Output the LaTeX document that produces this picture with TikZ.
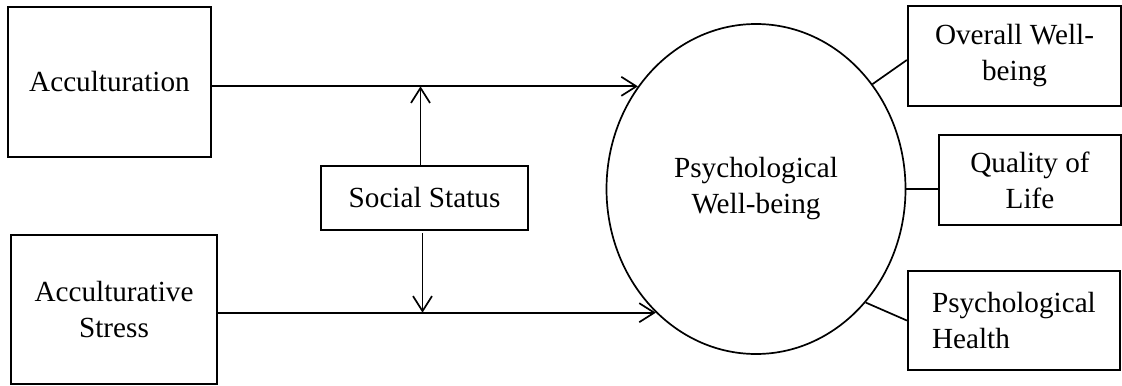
\documentclass[tikz,border=0pt]{standalone}
\usepackage{fontspec}
\setmainfont{Liberation Serif}
\usepackage{tikz}
\usetikzlibrary{arrows.meta, positioning, calc, shapes}

\begin{document}
\begin{tikzpicture}[
    x=0.5pt, y=-0.5pt,
    font=\fontsize{14.6}{18}\selectfont,
    varbox/.style={rectangle, draw=black, line width=1.15pt, align=center, inner sep=2pt},
    latent/.style={ellipse, draw=black, line width=0.85pt, minimum width=149.5pt, minimum height=165pt, align=center},
    arr/.style={line width=0.85pt, -{Straight Barb[length=7.5pt, width=9.5pt, line width=0.85pt]}},
    link/.style={line width=0.85pt}
]
\useasboundingbox (0,0) rectangle (1122,385);

% Predictors
\node[varbox, minimum width=101.5pt, minimum height=75pt] (accult) at (109.5,82) {Acculturation};
\node[varbox, minimum width=103pt, minimum height=74.5pt] (stress) at (114,309.5) {Acculturative\\Stress};

% Moderator
\node[varbox, minimum width=103.5pt, minimum height=32pt] (social) at (424.5,198) {Social Status};

% Outcome
\node[latent] (pwb) at (756,189) {Psychological\\Well-being};

% Indicators
\node[varbox, minimum width=106.5pt, minimum height=50pt] (overall) at (1014.5,56) {Overall Well-\\being};
\node[varbox, minimum width=91pt, minimum height=45pt] (quality) at (1030,180) {Quality of\\Life};
\node[varbox, minimum width=106pt, minimum height=49.5pt, text width=82pt, align=left] (health) at (1014,320.5) {Psychological\\Health};

% Paths
\draw[arr] (accult.east |- pwb.139) -- (pwb.139);
\draw[arr] (stress.east |- pwb.231.4) -- (pwb.231.4);
\draw[arr] ([xshift=-2pt]social.north) -- ([xshift=-2pt]social.north |- pwb.139);
\draw[arr] ([xshift=-1pt, yshift=-1pt]social.south) -- ([xshift=-1pt]social.south |- pwb.231.4);

% Loadings
\draw[link] (pwb.42.4) -- ([yshift=-2pt]overall.west);
\draw[link] (pwb.east) -- (pwb.east -| quality.west);
\draw[link] (pwb.314) -- (health.west);

\end{tikzpicture}
\end{document}
